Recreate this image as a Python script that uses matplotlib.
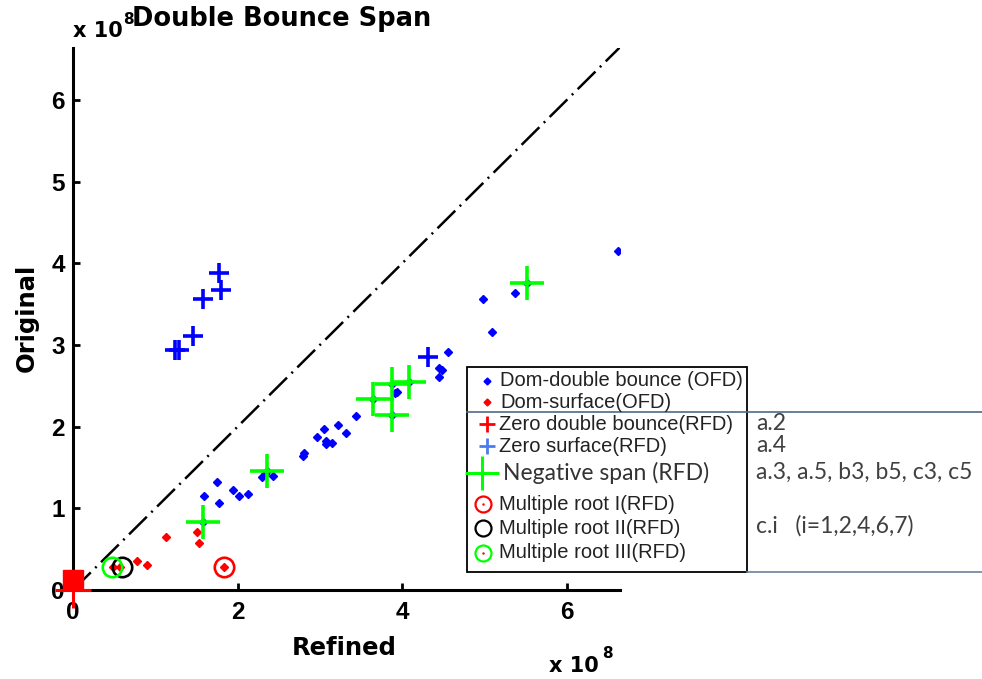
import matplotlib
matplotlib.use("Agg")
import matplotlib.pyplot as plt
from matplotlib.patches import Rectangle

# values are in units of 1e8
# Dom-double bounce (OFD)
dom_db_x = [1.75, 1.59, 1.78, 1.95, 2.02, 2.13, 1.58,
            3.44, 3.22, 3.32, 3.05, 2.97, 3.07, 3.08, 3.15, 2.81, 2.80,
            2.36, 2.30, 2.34, 2.43,
            4.56, 4.45, 4.49, 4.45, 4.09, 3.88, 3.94, 3.92, 3.65, 3.88,
            6.62, 5.52, 5.37, 4.98, 5.09]
dom_db_y = [1.32, 1.15, 1.06, 1.22, 1.15, 1.17, 0.83,
            2.13, 2.02, 1.92, 1.97, 1.87, 1.82, 1.79, 1.80, 1.68, 1.64,
            1.46, 1.38, 1.42, 1.40,
            2.91, 2.72, 2.70, 2.61, 2.55, 2.52, 2.42, 2.41, 2.34, 2.15,
            4.15, 3.76, 3.64, 3.56, 3.16]

# Dom-surface (OFD)
dom_surf_x = [1.13, 1.51, 1.53, 0.78, 0.90, 0.49, 0.57, 1.84]
dom_surf_y = [0.65, 0.71, 0.58, 0.36, 0.31, 0.28, 0.28, 0.28]

# Zero double bounce (RFD)
zero_db_x = [0.0]
zero_db_y = [0.0]
zero_db_blob_x = [0.0]
zero_db_blob_y = [0.12]

# Zero surface (RFD)
zero_surf_x = [1.78, 1.80, 1.58, 1.46, 1.24, 1.29, 4.32]
zero_surf_y = [3.88, 3.68, 3.57, 3.11, 2.94, 2.94, 2.85]

# Negative span (RFD)
neg_x = [1.58, 2.36, 3.65, 3.88, 3.88, 4.09, 5.52]
neg_y = [0.83, 1.46, 2.34, 2.52, 2.15, 2.55, 3.76]

# Multiple roots (RFD)
root1_x, root1_y = [1.84], [0.28]
root2_x, root2_y = [0.60], [0.28]
root3_x, root3_y = [0.47], [0.28]

xticks = [0, 2, 4, 6]
yticks = [0, 1, 2, 3, 4, 5, 6]
xlim = (0, 6.65)
ylim = (0, 6.64)

legend_labels = ["Dom-double bounce (OFD)", "Dom-surface(OFD)",
                 "Zero double bounce(RFD)", "Zero surface(RFD)",
                 "Negative span (RFD)", "Multiple root I(RFD)",
                 "Multiple root II(RFD)", "Multiple root III(RFD)"]
case_notes = ["a.2", "a.4", "a.3, a.5, b3, b5, c3, c5", "c.i   (i=1,2,4,6,7)"]

W, H = 982, 679
fig = plt.figure(figsize=(W / 100, H / 100), dpi=100)
ax = fig.add_axes([73 / W, 1 - 590 / H, (620 - 73) / W, (590 - 48) / H])

ax.plot(xlim, xlim, color="black", lw=1.8, linestyle=(0, (10, 2.5, 0.8, 2.5)))

ax.plot(dom_db_x, dom_db_y, "D", color="blue", ms=4.5, ls="none")
ax.plot(dom_surf_x, dom_surf_y, "D", color="red", ms=4.5, ls="none")
ax.plot(zero_surf_x, zero_surf_y, "+", color="blue", ms=15, mew=2.6, ls="none")
ax.plot(neg_x, neg_y, "+", color="#00ff00", ms=24, mew=2.6, ls="none")
ax.plot(root1_x, root1_y, "o", mfc="none", mec="red", ms=14, mew=1.9)
ax.plot(root2_x, root2_y, "o", mfc="none", mec="black", ms=14, mew=1.9)
ax.plot(root3_x, root3_y, "o", mfc="none", mec="#00ff00", ms=14, mew=1.9)
ax.plot(zero_db_blob_x, zero_db_blob_y, "s", color="red", ms=15,
        clip_on=False, zorder=5)
ax.plot(zero_db_x, zero_db_y, "+", color="red", ms=26, mew=2.2,
        clip_on=False, zorder=5)

ax.set_xlim(*xlim)
ax.set_ylim(*ylim)
ax.set_xticks(xticks)
ax.set_yticks(yticks)
ax.spines["top"].set_visible(False)
ax.spines["right"].set_visible(False)
for s in ("left", "bottom"):
    ax.spines[s].set_linewidth(2.2)
ax.tick_params(direction="in", length=5, width=2, labelsize=17.5)
ax.tick_params(axis="x", pad=8)
ax.tick_params(axis="y", pad=6)
for lab in ax.get_xticklabels() + ax.get_yticklabels():
    lab.set_fontfamily("Liberation Sans")
    lab.set_fontweight("bold")

# overlay in pixel coordinates for texts and the hand-made legend
lax = fig.add_axes([0, 0, 1, 1], zorder=10)
lax.set_xlim(0, W)
lax.set_ylim(H, 0)
lax.axis("off")

bold = dict(fontweight="bold", color="black")
lax.text(132, 19, "Double Bounce Span", fontsize=18.5, ha="left", va="center", **bold)
lax.text(73, 37, "x 10", fontsize=15, ha="left", va="baseline", **bold)
lax.text(123, 24, "8", fontsize=11, ha="left", va="baseline", **bold)
lax.text(344, 648, "Refined", fontsize=17.5, ha="center", va="center", **bold)
lax.text(27, 318, "Original", fontsize=17.5, ha="center", va="center",
         rotation=90, **bold)
lax.text(549, 672, "x 10", fontsize=15, ha="left", va="baseline", **bold)
lax.text(602, 658, "8", fontsize=11, ha="left", va="baseline", **bold)

# legend
lax.add_patch(Rectangle((467, 367), 280, 205, facecolor="white",
                        edgecolor="black", lw=1.3))
lax.plot([467, W], [412, 412], color="#4f6a88", lw=1.2)
lax.plot([747, W], [572, 572], color="#6d8299", lw=1.2)

rows_y = [381, 402, 424, 446, 473, 504, 528, 553]
lax.plot(487, rows_y[0], "D", color="blue", ms=3.5)
lax.plot(487, rows_y[1], "D", color="red", ms=3.5)
lax.plot(487, rows_y[2], "+", color="red", ms=11, mew=2)
lax.plot(487, rows_y[3], "+", color="#4a7cf0", ms=11, mew=2)
lax.plot(482, rows_y[4], "+", color="#00ff00", ms=24, mew=2.2)
lax.plot(483, rows_y[5], "o", mfc="none", mec="red", ms=11.5, mew=1.6)
lax.plot(483, rows_y[5], ".", color="red", ms=1.5)
lax.plot(483, rows_y[6], "o", mfc="none", mec="black", ms=11.5, mew=1.6)
lax.plot(483, rows_y[7], "o", mfc="none", mec="#00ff00", ms=11.5, mew=1.6)
lax.plot(483, rows_y[7], ".", color="red", ms=1.5)

for i, lab in enumerate(legend_labels):
    if i == 4:
        lax.text(503, rows_y[i], lab, fontsize=16.5, family="Lato",
                 color="#333333", ha="left", va="center")
    else:
        lax.text(499 if i > 1 else 500, rows_y[i], lab, fontsize=14.5,
                 family="Liberation Sans", color="#222222",
                 ha="left", va="center")

notes_y = [423, 446, 472, 526]
for t, y in zip(case_notes, notes_y):
    lax.text(756, y, t, fontsize=16.5, family="Lato", color="#404040",
             ha="left", va="center")

fig.savefig("out.png", dpi=100)
